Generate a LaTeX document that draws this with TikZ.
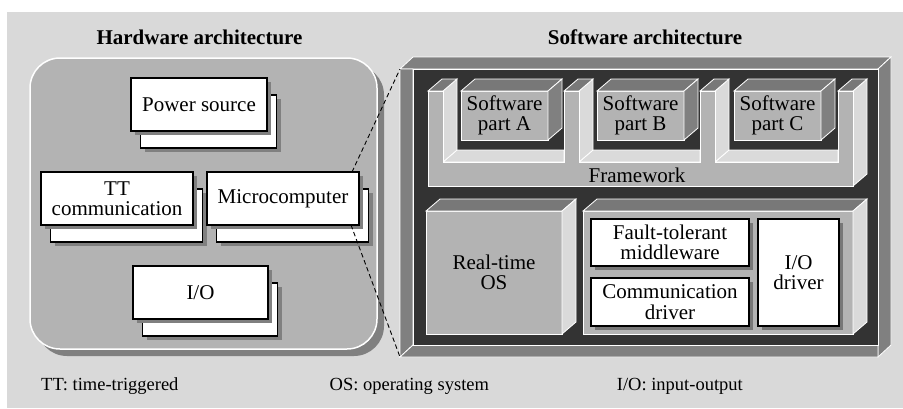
\documentclass[tikz,border=0pt]{standalone}
\usepackage{fontspec}
\setmainfont{Liberation Serif}
\usetikzlibrary{calc}
\definecolor{bgl}{HTML}{D9D9D9}
\definecolor{midg}{HTML}{B3B3B3}
\definecolor{dkg}{HTML}{808080}
\definecolor{topg}{HTML}{787878}
\definecolor{shd}{HTML}{777777}
\definecolor{drk}{HTML}{333333}
\definecolor{lite}{HTML}{DADADA}
\newcommand\hwbox[5]{%
  \node[hwshadow, minimum width=#4] at (#2+13.5,#3+21) {};
  \node[hwback, minimum width=#4] (#1b) at (#2+9.5,#3+17) {};
  \node[hwshadow, minimum width=#4] at (#2+4,#3+4) {};
  \node[wbox, minimum width=#4, minimum height=53pt] (#1) at (#2,#3) {#5};
}
\newcommand\boxthreed[8]{% name, cx, cy, w, h, topcolor, rightcolor, text
  \node[facebox, minimum width=#4, minimum height=#5] (#1) at (#2,#3) {#8};
  \filldraw[face, fill=#6] (#1.north west) -- ++(14,-12) -- ($(#1.north east)+(14,-12)$) -- (#1.north east) -- cycle;
  \filldraw[face, fill=#7] (#1.north east) -- ++(14,-12) -- ($(#1.south east)+(14,-12)$) -- (#1.south east) -- cycle;
}
\newcommand\wshbox[6]{% name, cx, cy, w, h, text
  \node[fill=shd, minimum width=#4, minimum height=#5, inner sep=0pt] at (#2+4,#3+4) {};
  \node[wbox, minimum width=#4, minimum height=#5] (#1) at (#2,#3) {#6};
}
\begin{document}
\begin{tikzpicture}[x=1pt,y=-1pt,
  txt/.style={font=\rmfamily\fontsize{21}{20.5}\selectfont, align=center, inner sep=0pt, outer sep=0pt},
  note/.style={font=\rmfamily\fontsize{18.5}{20}\selectfont, anchor=base west, inner sep=0pt},
  ttl/.style={font=\rmfamily\fontsize{21}{22}\selectfont\bfseries, anchor=base, inner sep=0pt},
  wbox/.style={draw=black, fill=white, line width=1.1pt, txt},
  hwshadow/.style={fill=dkg, minimum height=53pt, inner sep=0pt, outer sep=0pt},
  hwback/.style={draw=black, fill=white, line width=1.1pt, minimum height=53pt, inner sep=0pt, outer sep=0pt},
  face/.style={draw=white, line width=0.8pt, line join=miter},
  facebox/.style={face, fill=midg, txt},
  hwdash/.style={draw=black, line width=0.9pt, dash pattern=on 4.5pt off 3pt}
]
\useasboundingbox (0,0) rectangle (903,408);
\fill[bgl] (7,12) rectangle (903,408);

% ---------- Hardware ----------
\node[ttl] (hwt) at (199.5,44) {Hardware architecture};
\fill[dkg, rounded corners=30pt] (37,65) rectangle (384,356);
\draw[white, line width=1.5pt, fill=midg, rounded corners=30pt] (30,58) rectangle (377,349);

\hwbox{ps}{199}{104.5}{136pt}{Power source}
\hwbox{tt}{117}{198.5}{152pt}{TT\\communication}
\hwbox{mc}{283}{198.5}{152pt}{Microcomputer}
\hwbox{io}{200.5}{292.5}{135pt}{I/O}

% ---------- Software ----------
\node[ttl] (swt) at (645,44) {Software architecture};
\coordinate (swTL) at (400,69);
\coordinate (swBL) at (400,357);
\filldraw[face, fill=dkg] (400,69) -- (413,57) -- (891,57) -- (878,69) -- cycle;
\filldraw[face, fill=dkg] (878,69) -- (891,57) -- (891,345) -- (878,357) -- cycle;
\filldraw[face, fill=dkg] (400,69) -- (413,69) -- (413,345) -- (400,357) -- cycle;
\filldraw[face, fill=dkg] (400,357) -- (413,345) -- (878,345) -- (878,357) -- cycle;
\filldraw[face, fill=drk] (413,69) rectangle (878,345);

% Framework
\foreach \a/\n in {428/564, 564/700, 700/838}{
  \filldraw[face, fill=lite] (\a+15,162) -- (\a+29,150) -- (\n,150) -- (\n,162) -- cycle;
  \filldraw[face, fill=lite] (\a+15,91) -- (\a+29,79) -- (\a+29,150) -- (\a+15,162) -- cycle;
}
\filldraw[face, fill=lite] (853,91) -- (867,79) -- (867,174) -- (853,186) -- cycle;
\foreach \a in {428,564,700,838}{
  \filldraw[face, fill=topg] (\a,91) -- (\a+14,79) -- (\a+29,79) -- (\a+15,91) -- cycle;
}
\filldraw[face, fill=midg] (428,186) -- (428,91) -- (443,91) -- (443,162) -- (564,162) -- (564,91)
  -- (579,91) -- (579,162) -- (700,162) -- (700,91) -- (715,91) -- (715,162) -- (838,162)
  -- (838,91) -- (853,91) -- (853,186) -- cycle;
\node[txt] (fw) at (637,175) {Framework};

\boxthreed{swa}{504.5}{115.5}{87pt}{49pt}{topg}{dkg}{Software\\part A}
\boxthreed{swb}{640.5}{115.5}{87pt}{49pt}{topg}{dkg}{Software\\part B}
\boxthreed{swc}{777.5}{115.5}{87pt}{49pt}{topg}{dkg}{Software\\part C}

\boxthreed{os}{494}{272.5}{136pt}{123pt}{topg}{lite}{Real-time\\OS}
\boxthreed{drv}{718}{272.5}{270pt}{123pt}{topg}{lite}{}

\wshbox{ftm}{670}{242.5}{158pt}{47pt}{Fault-tolerant\\middleware}
\wshbox{cd}{670}{302}{158pt}{48pt}{Communication\\driver}
\wshbox{iod}{798.5}{272.5}{81pt}{107pt}{I/O\\driver}

% zoom lines
\draw[hwdash] ($(mc.north east)+(-7,0)$) -- (swTL);
\draw[hwdash] ($(mc.south east)+(-8,0)$) -- (swBL);

% ---------- Notes ----------
\node[note] (n1) at (41,390) {TT: time-triggered};
\node[note] (n2) at (329.5,390) {OS: operating system};
\node[note] (n3) at (616.7,390) {I/O: input-output};
\end{tikzpicture}
\end{document}
